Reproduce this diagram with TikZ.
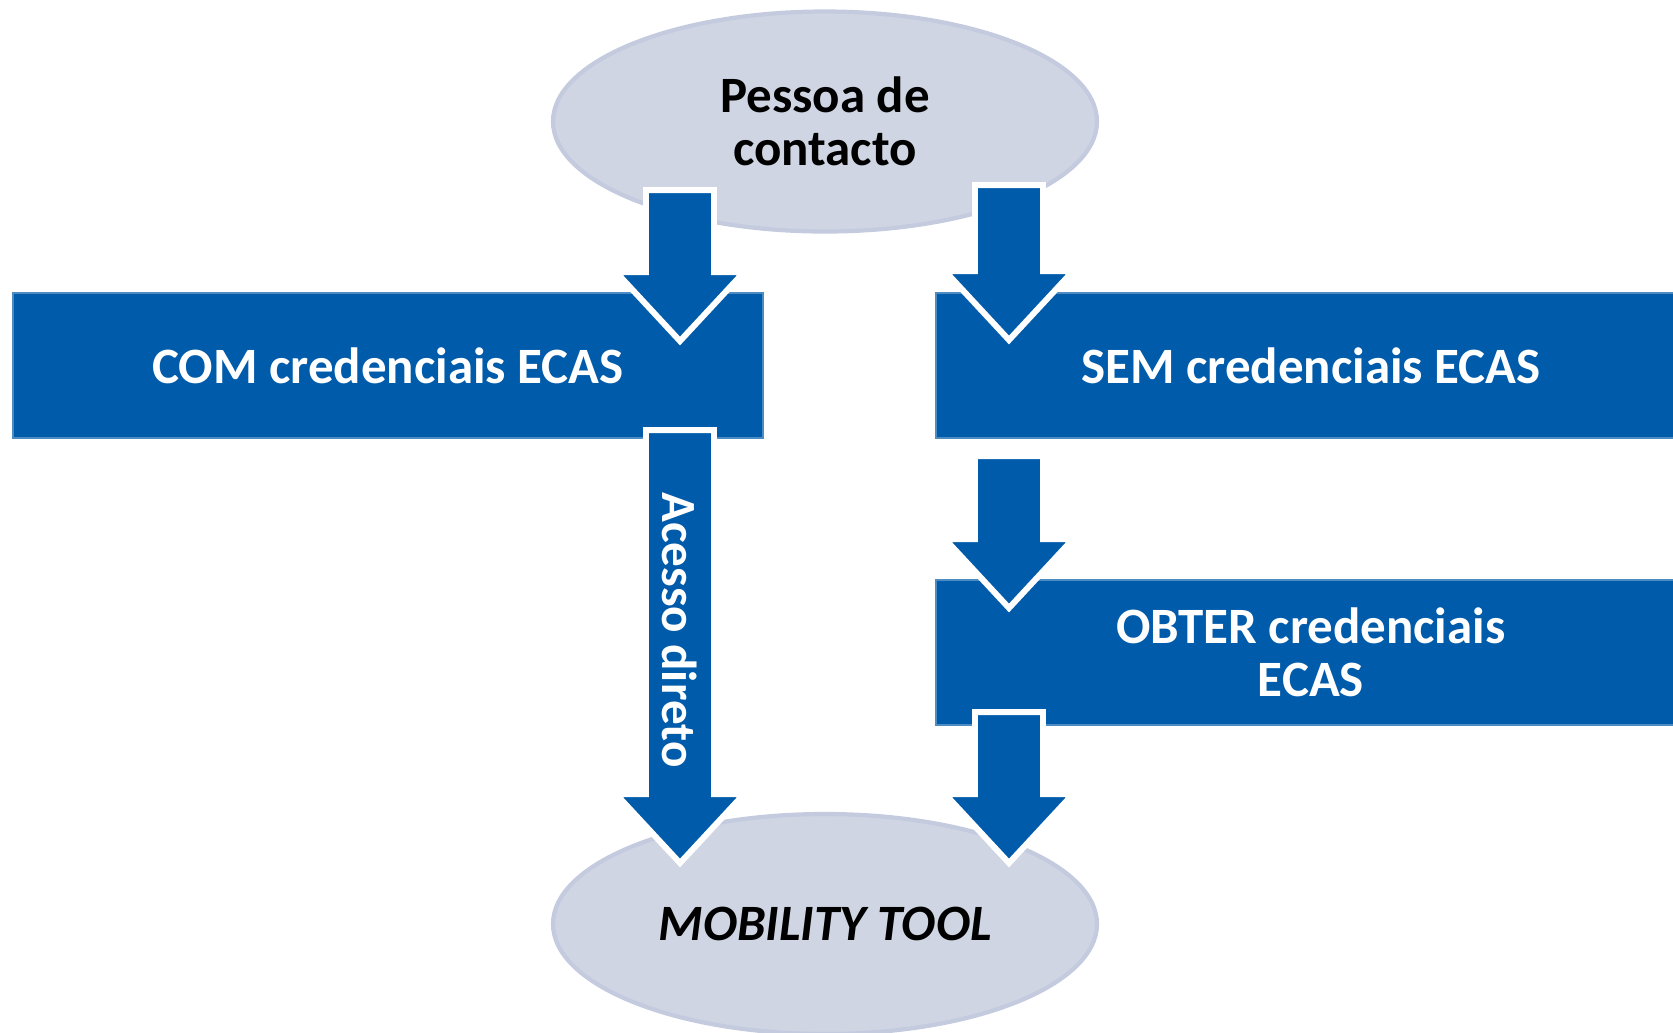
\documentclass[tikz,border=0pt]{standalone}
\usepackage{fontspec}
\setmainfont{Carlito}
\usetikzlibrary{shapes.geometric,calc}

\definecolor{ecasblue}{RGB}{0,91,170}
\definecolor{ovalfill}{RGB}{207,213,227}
\definecolor{ovalline}{RGB}{196,203,223}

\tikzset{
  oval/.style={ellipse, fill=ovalfill, draw=ovalline, line width=1.2pt,
    minimum width=5.44cm, minimum height=2.2cm, inner sep=0pt, align=center,
    font=\fontsize{14.5}{15}\selectfont\bfseries},
  bluebox/.style={rectangle, fill=ecasblue, draw=ecasblue!70!white, line width=0.5pt,
    minimum width=7.5cm, minimum height=1.45cm, inner sep=0pt, text=white, align=center,
    font=\fontsize{14.5}{15.2}\selectfont\bfseries},
  bigarrow/.style={fill=ecasblue, draw=white, line width=1.7pt}
}

% block arrow from #1 (top of shaft) down to #2 (tip)
\newcommand{\blockarrow}[2]{%
  \draw[bigarrow] let \p1=(#1), \p2=(#2) in
    (\x1-3.4mm,\y1) -- (\x1+3.4mm,\y1) -- (\x1+3.4mm,\y2+6.9mm) -- (\x1+6.4mm,\y2+6.9mm)
    -- (\x1,\y2) -- (\x1-6.4mm,\y2+6.9mm) -- (\x1-3.4mm,\y2+6.9mm) -- cycle;}

\begin{document}
\begin{tikzpicture}
        % \draw[help lines,xstep=1,ystep=1] (0,0) grid (17,-11);
        \useasboundingbox (0,0) rectangle (16.73,-10.32);

        \node[oval] (contacto) at (8.25,-1.215) {Pessoa de\\contacto};
        \node[oval] (mobility) at (8.25,-9.24) {\itshape MOBILITY TOOL};

        \node[bluebox] (com) at (3.88,-3.655) {COM credenciais ECAS};
        \node[bluebox] (sem) at (13.11,-3.655) {SEM credenciais ECAS};
        \node[bluebox] (obter) at (13.11,-6.525) {OBTER credenciais\\ECAS};

        % arrow ends
        \coordinate (a1top) at (6.80,-1.90);
        \coordinate (a1tip) at (6.80,-3.41);
        \coordinate (a2top) at (6.80,-4.30);
        \coordinate (a2tip) at (6.80,-8.63);
        \coordinate (b1top) at (10.09,-1.85);
        \coordinate (b1tip) at (10.09,-3.40);
        \coordinate (b2top) at (10.09,-4.56);
        \coordinate (b2tip) at (10.09,-6.08);
        \coordinate (b3top) at (10.09,-7.12);
        \coordinate (b3tip) at (10.09,-8.63);

        % contact person to both boxes
        \blockarrow{a1top}{a1tip}
        \blockarrow{b1top}{b1tip}

        % with credentials: direct access
        \blockarrow{a2top}{a2tip}
        \node[rotate=-90, text=white, font=\fontsize{14}{15}\selectfont\bfseries]
          (acesso) at (6.80,-6.30) {Acesso direto};

        % without credentials: get them first
        \blockarrow{b2top}{b2tip}
        \blockarrow{b3top}{b3tip}

\end{tikzpicture}
\end{document}
